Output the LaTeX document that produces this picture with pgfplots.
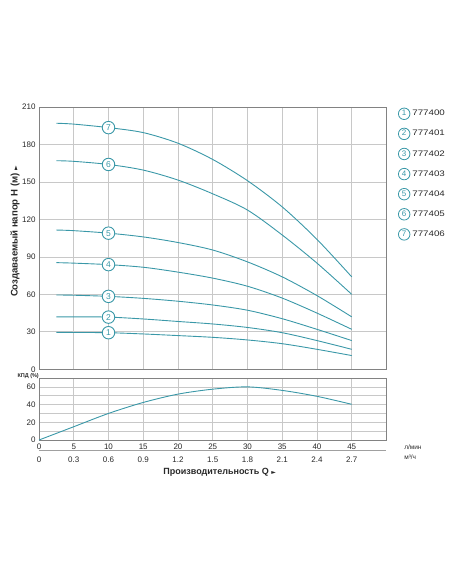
\documentclass[border=0pt]{standalone}
\usepackage{fontspec}
\setmainfont{Liberation Sans}
\newfontfamily\symfont{DejaVu Sans}
\usepackage{graphicx}
\usepackage{pgfplots}
\pgfplotsset{compat=1.18}

\definecolor{curve}{RGB}{58,152,168}
\definecolor{gridc}{RGB}{200,200,200}
\definecolor{framec}{RGB}{130,130,130}
\definecolor{txt}{RGB}{40,40,40}

\tikzset{numcirc/.style={circle, draw=curve, fill=white, text=curve,
  inner sep=0pt, minimum size=11.5pt, line width=0.8pt,
  font=\fontsize{8}{8}\selectfont}}

\newcommand{\lent}[1]{\scalebox{1.22}[1]{#1}}

\pgfplotsset{
  pumpbase/.style={
    scale only axis, width=347.5pt, xmin=0, xmax=50,
    axis line style={framec, line width=0.9pt},
    grid=major, grid style={gridc, line width=0.7pt},
    major tick length=0pt,
    xtick={0,5,...,45},
    tick label style={font=\fontsize{8}{9}\selectfont, text=txt},
    /pgf/number format/assume math mode=true,
  },
  pump/.style={curve, line width=0.9pt, smooth,
    mark=text, text mark={#1}, mark indices={3},
    text mark as node=true,
    text mark style={numcirc, minimum size=12.5pt, line width=0.9pt, font=\fontsize{8.5}{9}\selectfont},
    legend image code/.code={\node[numcirc] at (0.1cm,0) {#1};}},
}

\begin{document}
\begin{tikzpicture}
\path[use as bounding box] (0,0) rectangle (452pt,-584pt);

% head curves H(Q)
\begin{axis}[pumpbase,
  at={(39pt,-369.3pt)}, anchor=south west, height=262.3pt,
  ymin=0, ymax=210, ytick={0,30,...,210}, xticklabels={},
  ylabel={Создаваемый напор H (м) {\symfont\fontsize{6}{6}\selectfont ►}},
  ylabel style={at={(axis description cs:-0.069,0.525)}, anchor=center,
    font=\fontsize{9.6}{10}\selectfont\bfseries, text=txt},
  legend style={draw=none, fill=none, at={(1.024,1.006)}, anchor=north west,
    font=\fontsize{8}{9}\selectfont, text=txt, row sep=7.8pt,
    nodes={inner xsep=2pt}},
  legend cell align=left,
]
\addplot[pump=1] coordinates {(2.5,29.6) (5,29.5) (10,29.3) (15,28.3) (20,27) (25,25.6) (30,23.5) (35,20.5) (40,16) (45,11)};
\addlegendentry{\lent{777400}}
\addplot[pump=2] coordinates {(2.5,42) (5,42) (10,41.8) (15,40.3) (20,38.3) (25,36.3) (30,33.5) (35,29.3) (40,23) (45,16)};
\addlegendentry{\lent{777401}}
\addplot[pump=3] coordinates {(2.5,59.5) (5,59.3) (10,58.4) (15,56.8) (20,54.5) (25,51.5) (30,47.3) (35,40.5) (40,32) (45,23)};
\addlegendentry{\lent{777402}}
\addplot[pump=4] coordinates {(2.5,85.4) (5,85) (10,83.8) (15,81.7) (20,77.8) (25,73) (30,66.5) (35,57) (40,45) (45,32)};
\addlegendentry{\lent{777403}}
\addplot[pump=5] coordinates {(2.5,111.5) (5,111) (10,109) (15,106) (20,101.5) (25,95.5) (30,86) (35,74) (40,59) (45,42)};
\addlegendentry{\lent{777404}}
\addplot[pump=6] coordinates {(2.5,167) (5,166.5) (10,164) (15,159.5) (20,151.5) (25,140.5) (30,127.5) (35,107.5) (40,85) (45,60)};
\addlegendentry{\lent{777405}}
\addplot[pump=7] coordinates {(2.5,197) (5,196.3) (10,193.5) (15,189.5) (20,181) (25,168) (30,151) (35,130) (40,104) (45,74)};
\addlegendentry{\lent{777406}}
\end{axis}

% efficiency
\begin{axis}[pumpbase,
  at={(39pt,-440pt)}, anchor=south west, height=62pt, clip=false,
  ymin=0, ymax=70, ytick={0,10,...,70}, yticklabels={0,,20,,40,,60,},
]
\addplot[curve, line width=0.9pt, smooth] coordinates {(0,0) (5,15) (10,30) (15,42.4) (20,51.8) (25,57.4) (30,60) (35,56) (40,49.3) (45,40.3)};
\node[anchor=west, font=\fontsize{5.5}{6}\selectfont\bfseries, text=txt] at (rel axis cs:-0.072,1.03) {КПД (\%)};
\node[anchor=west, font=\fontsize{6.5}{7}\selectfont, text=txt] at (rel axis cs:1.041,-0.108) {л/мин};
\node[anchor=west, font=\fontsize{6.5}{7}\selectfont, text=txt] at (rel axis cs:1.041,-0.274) {м³/ч};
\end{axis}

% second flow scale
\begin{axis}[scale only axis, width=347.5pt, height=5pt,
  at={(39pt,-450pt)}, anchor=south west,
  xmin=0, xmax=50, ymin=0, ymax=1,
  axis x line*=bottom, hide y axis,
  axis line style={-, gridc!80!black, line width=1pt},
  major tick length=0pt,
  xtick={0,5,...,45},
  xticklabels={0,0.3,0.6,0.9,1.2,1.5,1.8,2.1,2.4,2.7},
  x tick label style={font=\fontsize{8}{9}\selectfont, text=txt, yshift=-3pt},
  xlabel={Производительность Q {\symfont\fontsize{6}{6}\selectfont ►}},
  xlabel style={at={(axis description cs:0.52,0)}, anchor=center, yshift=-22pt,
    font=\fontsize{9}{10}\selectfont\bfseries, text=txt},
]
\end{axis}
\end{tikzpicture}
\end{document}
